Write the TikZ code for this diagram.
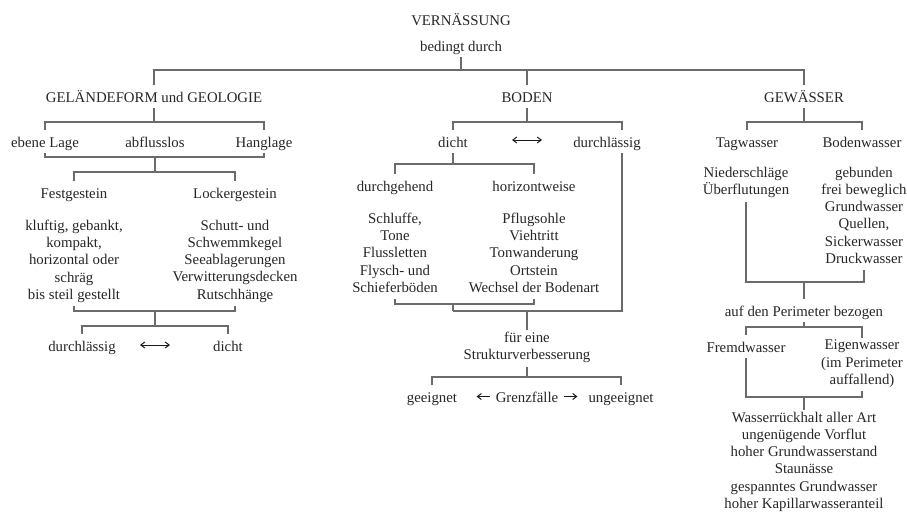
\documentclass[tikz,border=0pt]{standalone}
\usepackage{fontspec}
\setmainfont{Liberation Serif}
\usetikzlibrary{arrows.meta, calc}

\begin{document}
\begin{tikzpicture}[x=1pt, y=-1pt,
  item/.style={anchor=base, inner xsep=3pt, inner ysep=5pt, text height=12pt, text depth=1pt,
    font=\fontsize{14.8}{17.2}\selectfont, text=black!85},
  block/.style={anchor=north, align=center, inner sep=0pt, outer sep=2pt,
    font=\fontsize{14.8}{17.2}\selectfont, text=black!85,
    execute at begin node=\strut, execute at end node=\strut},
  link/.style={draw=black!58, line width=1.2pt},
  twoway/.style={draw=black!90, line width=1pt, {Straight Barb[length=4pt,width=6pt]}-{Straight Barb[length=4pt,width=6pt]}},
  oneway/.style={draw=black!90, line width=1pt, -{Straight Barb[length=4pt,width=6pt]}}]
  \useasboundingbox (0,0) rectangle (907,512);

  \node[item] (vern) at (461,25) {VERNÄSSUNG};
  \node[item] (bed) at (461,51) {bedingt durch};
  \node[item] (gel) at (154,102) {GELÄNDEFORM und GEOLOGIE};
  \node[item] (boden) at (527,102) {BODEN};
  \node[item] (gew) at (804,102) {GEWÄSSER};

  \node[item] (ebene) at (45,147) {ebene Lage};
  \node[item] (abfl) at (155,147) {abflusslos};
  \node[item] (hang) at (264,147) {Hanglage};
  \node[item] (fest) at (74,198) {Festgestein};
  \node[item] (locker) at (235,198) {Lockergestein};
  \node[block] (festtxt) at (74,218) {kluftig, gebankt,\\kompakt,\\horizontal oder\\schräg\\bis steil gestellt};
  \node[block] (lockertxt) at (235,218) {Schutt- und\\Schwemmkegel\\Seeablagerungen\\Verwitterungsdecken\\Rutschhänge};
  \node[item] (durchl) at (82,351) {durchlässig};
  \node[item] (dichtl) at (228,351) {dicht};

  \node[item] (dichtb) at (453,147) {dicht};
  \node[item] (durchlb) at (607,147) {durchlässig};
  \node[item] (durchg) at (395,191) {durchgehend};
  \node[item] (horiz) at (534,191) {horizontweise};
  \node[block] (durchgtxt) at (395,211) {Schluffe,\\Tone\\Flussletten\\Flysch- und\\Schieferböden};
  \node[block] (horiztxt) at (534,211) {Pflugsohle\\Viehtritt\\Tonwanderung\\Ortstein\\Wechsel der Bodenart};
  \node[block] (fuer) at (527,330) {für eine\\Strukturverbesserung};
  \node[item] (geeig) at (432,402) {geeignet};
  \node[item] (grenz) at (527,402) {Grenzfälle};
  \node[item] (ungeeig) at (621,402) {ungeeignet};

  \node[item] (tag) at (747,147) {Tagwasser};
  \node[item] (bodenw) at (862,147) {Bodenwasser};
  \node[block] (tagtxt) at (746,165) {Niederschläge\\Überflutungen};
  \node[block] (bodenwtxt) at (864,165) {gebunden\\frei beweglich\\Grundwasser\\Quellen,\\Sickerwasser\\Druckwasser};
  \node[item] (perim) at (804,316) {auf den Perimeter bezogen};
  \node[item] (fremd) at (746,352) {Fremdwasser};
  \node[block] (eigen) at (862,338) {Eigenwasser\\(im Perimeter\\auffallend)};
  \node[block] (wasser) at (804,410) {Wasserrückhalt aller Art\\ungenügende Vorflut\\hoher Grundwasserstand\\Staunässe\\gespanntes Grundwasser\\hoher Kapillarwasseranteil};

  \coordinate (j1) at (461,70);
  \coordinate (j2) at (154,122);
  \coordinate (j3) at (155,157);
  \coordinate (j4) at (155,172);
  \coordinate (j5) at (155,311);
  \coordinate (j6) at (155,326);
  \coordinate (k1) at (527,122);
  \coordinate (k2) at (453,164);
  \coordinate (k3) at (453,304);
  \coordinate (k4) at (453,311);
  \coordinate (k5) at (527,311);
  \coordinate (k6) at (527,377);
  \coordinate (g1) at (804,122);
  \coordinate (g2) at (804,282);
  \coordinate (g3) at (804,327);
  \coordinate (g4) at (804,397);

  \draw[link] (bed) -- (j1);
  \draw[link] (gel) |- (j1) -| (gew);
  \draw[link] (boden) -- (boden |- j1);

  \draw[link] (gel) -- (j2);
  \draw[link] (ebene) |- (j2) -| (hang);
  \draw[link] (ebene) |- (j3) -| (hang);
  \draw[link] (j3) -- (j4);
  \draw[link] (fest) |- (j4) -| (locker);
  \draw[link] (festtxt) |- (j5) -| (lockertxt);
  \draw[link] (j5) -- (j6);
  \draw[link] (durchl) |- (j6) -| (dichtl);
  \draw[twoway] ($(durchl.base)!.5!(dichtl.base)+(-15,-6)$) -- ++(30,0);

  \draw[link] (boden) -- (k1);
  \draw[link] (dichtb) |- (k1) -| ([xshift=15pt]durchlb.north);
  \draw[twoway] ($(dichtb.base)!.5!(durchlb.base)+(-18,-7)$) -- ++(30,0);
  \draw[link] (dichtb) -- (k2);
  \draw[link] (durchg) |- (k2) -| (horiz);
  \draw[link] (durchgtxt) |- (k3) -| (horiztxt);
  \draw[link] (k3) -- (k4);
  \draw[link] ([xshift=15pt]durchlb.south) |- (k4);
  \draw[link] (k5) -- (fuer);
  \draw[link] (fuer) -- (k6);
  \draw[link] (geeig) |- (k6) -| (ungeeig);
  \draw[oneway, shorten <=3pt] (grenz.west) -- ++(-16,0);
  \draw[oneway, shorten <=3pt] (grenz.east) -- ++(16,0);

  \draw[link] (gew) -- (g1);
  \draw[link] (tag) |- (g1) -| (bodenw);
  \draw[link] (tagtxt) |- (g2) -| (bodenwtxt);
  \draw[link] (g2) -- (perim);
  \draw[link] (perim) -- (g3);
  \draw[link] (fremd) |- (g3) -| (eigen);
  \draw[link] (fremd) |- (g4) -| (eigen);
  \draw[link] (g4) -- (wasser);
\end{tikzpicture}
\end{document}
